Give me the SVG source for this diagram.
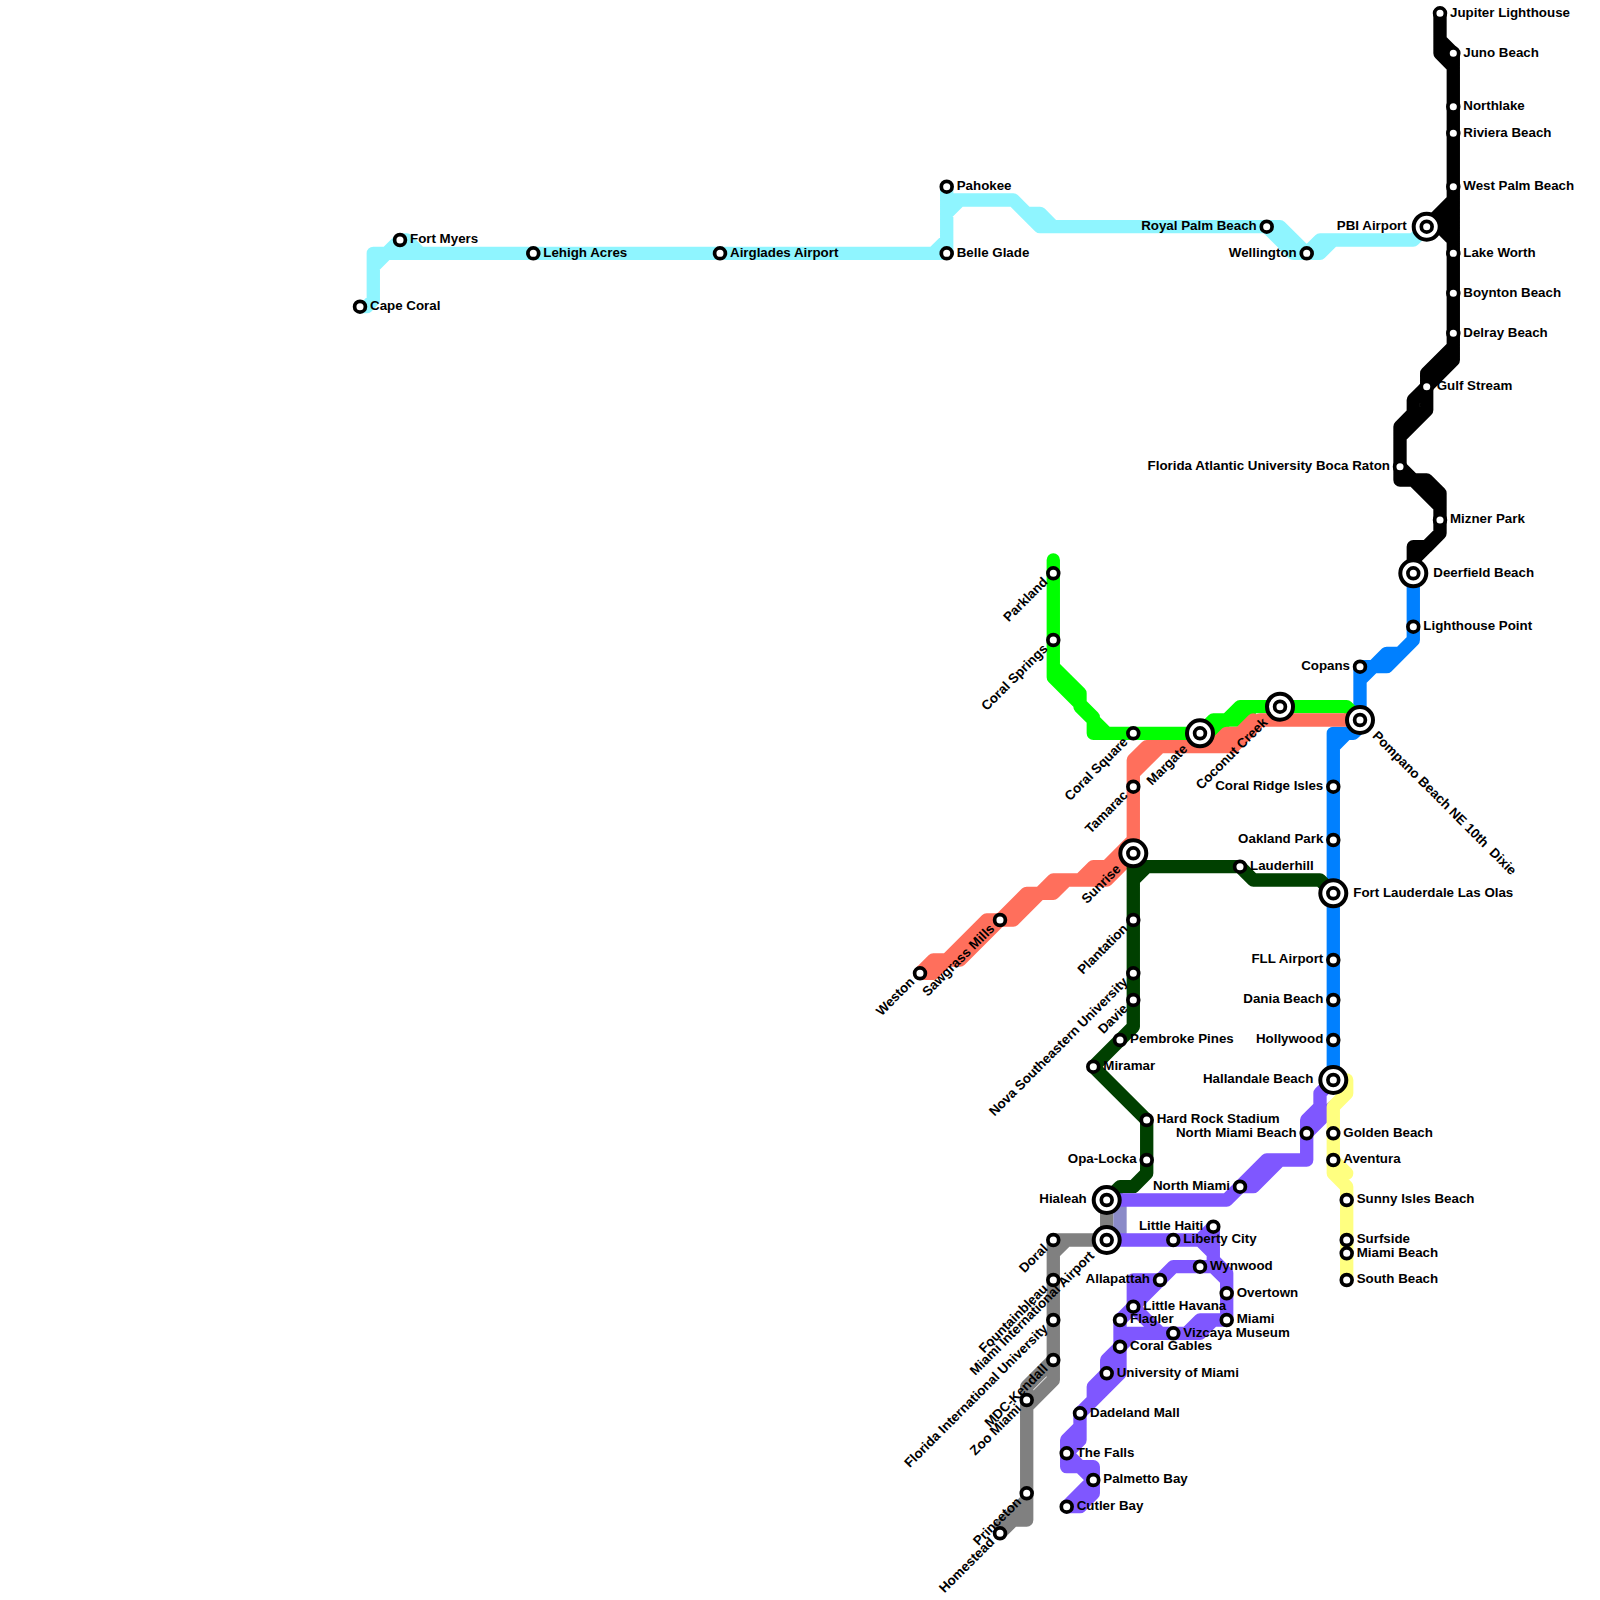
<svg xmlns="http://www.w3.org/2000/svg" width="1600" height="1600" viewBox="0 0 1600 1600">
<style>
text{font-family:"Liberation Sans",Arial,sans-serif;font-size:13.33px;font-weight:700;fill:#000;white-space:pre}
.e{text-anchor:end}
#connectors path{fill:none;stroke-width:13.33;stroke-linecap:round;stroke-linejoin:round}
.s{fill:#fff;stroke:#000;stroke-width:3.7}
.h{fill:#fff;stroke:#000;stroke-width:4}
</style>
<defs>
<g id="st"><circle class="s" r="5.4"/></g>
<g id="hub"><circle class="h" r="13"/><circle class="s" r="5.4"/></g>
</defs>
<rect width="1600" height="1600" fill="#fff"/>
<g id="connectors">
<path id="line-cyan" stroke="#8ff5ff" d="M360 306.7H366.7L373.3 300V253.3H386.7L400 240H406.7L420 253.3H946.7M373.3 266.7L386.7 253.3M386.7 253.3H420M933.3 253.3L946.7 240M946.7 186.7V253.3M946.7 213.3L960 200M946.7 200H1013.3L1040 226.7H1280L1306.7 253.3M1026.7 213.3H1040L1053.3 226.7M1266.7 226.7L1293.3 253.3H1320L1333.3 240M1306.7 253.3L1320 240H1413.3L1426.7 226.7"/>
<path id="line-black" stroke="#000" d="M1440 13.3V53.3L1453.3 66.7M1440 40L1453.3 53.3V360L1426.7 386.7M1453.3 346.7L1426.7 373.3V410L1400 436.7M1426.7 386.7L1413.3 400V413.3L1400 426.7V480H1413.3L1440 506.7M1400 466.7L1413.3 480H1426.7L1440 493.3V533.3L1413.3 560M1413.3 573.3V546.7H1426.7L1440 533.3M1453.3 200L1426.7 226.7M1433.3 220L1453.3 240M1440 213.3H1453.3M1440 226.7H1453.3"/>
<path id="line-blue" stroke="#0080ff" d="M1413.3 573.3V640L1386.7 666.7H1373.3L1360 680M1400 653.3H1386.7L1360 680M1360 666.7H1373.3M1360 666.7V726.7L1353.3 733.3H1333.3V1080M1333.3 746.7L1346.7 733.3"/>
<path id="line-green" stroke="#00ff00" d="M1053.3 560V677.3L1093.3 717.3V733.3H1200L1213.3 720H1226.7L1240 706.7H1346.7L1360 720M1053.3 666.7L1080 693.3V706.7L1106.7 733.3M1213.3 733.3L1226.7 720H1240L1253.3 706.7"/>
<path id="line-salmon" stroke="#ff6f5c" d="M1133.3 840V760L1146.7 746.7H1233.3L1260 720H1353M1133.3 773.3L1160 746.7M1213.3 746.7L1226.7 733.3H1240L1253.3 720M1133.3 840L1106.7 866.7H1093.3L1080 880H1053.3L1040 893.3H1026.7L1000 920H986.7L946.7 960H933.3L920 973.3M1133.3 853.3L1106.7 880H1066.7L1053.3 893.3H1040L1013.3 920H1000L960 960H946.7L933.3 973.3H920"/>
<path id="line-darkgreen" stroke="#004000" d="M1133.3 853.3V1026.7L1093.3 1066.7L1146.7 1120V1173.3L1133.3 1186.7H1120L1106.7 1200M1133.3 866.7H1240L1253.3 880H1320L1333.3 893.3M1133.3 880L1146.7 866.7"/>
<path id="line-gray" stroke="#808080" d="M1106.7 1200V1240H1053.3V1380L1026.7 1406.7V1520H1013.3L1000 1533.3M1053.3 1253.3L1066.7 1240M1053.3 1360L1026.7 1386.7V1410M1026.7 1500L1000 1526.7"/>
<path id="line-blend" stroke="#8a8ac8" d="M1106.7 1206.7H1120V1233.3H1106.7"/>
<path id="line-purple" stroke="#7f57ff" d="M1106.7 1200H1226.7L1240 1186.7H1253.3L1280 1160H1306.7V1120L1320 1106.7V1093.3L1333.3 1080M1226.7 1200L1266.7 1160H1280M1333.3 1106.7L1306.7 1133.3M1106.7 1240H1200L1213.3 1226.7V1260L1226.7 1273.3V1320H1200L1186.7 1333.3H1133.3L1120 1346.7L1106.7 1360V1373.3L1093.3 1386.7V1400L1080 1413.3V1426.7L1066.7 1440V1466.7H1080L1093.3 1480M1200 1240L1213.3 1253.3M1213.3 1266.7H1173.3L1120 1320V1346.7M1213.3 1266.7L1226.7 1280M1133.3 1280H1160M1133.3 1280V1306.7L1120 1320V1333.3H1133.3M1140 1280V1298M1133.3 1306.7L1160 1333.3M1200 1333.3L1213.3 1320M1186.7 1333.3H1200M1120 1346.7V1373.3L1093.3 1400L1080 1413.3V1440L1066.7 1453.3L1080 1466.7H1093.3V1493.3L1080 1506.7H1066.7L1093.3 1480"/>
<path id="line-yellow" stroke="#ffff80" d="M1333.3 1080H1346.7V1093.3L1333.3 1106.7V1173.3L1346.7 1186.7V1280M1333.3 1160L1346.7 1173.3"/>
</g>
<g id="nodes">
<g id="jupiter" transform="translate(1440 13.3)"><use href="#st"/><text x="10" y="3.3">Jupiter Lighthouse</text></g>
<g id="juno" transform="translate(1453.3 53.3)"><use href="#st"/><text x="10" y="3.3">Juno Beach</text></g>
<g id="northlake" transform="translate(1453.3 106.7)"><use href="#st"/><text x="10" y="3.3">Northlake</text></g>
<g id="riviera" transform="translate(1453.3 133.3)"><use href="#st"/><text x="10" y="3.3">Riviera Beach</text></g>
<g id="wpb" transform="translate(1453.3 186.7)"><use href="#st"/><text x="10" y="3.3">West Palm Beach</text></g>
<g id="pbi" transform="translate(1426.7 226.7)"><use href="#hub"/><text class="e" x="-20" y="3.3">PBI Airport</text></g>
<g id="lakeworth" transform="translate(1453.3 253.3)"><use href="#st"/><text x="10" y="3.3">Lake Worth</text></g>
<g id="boynton" transform="translate(1453.3 293.3)"><use href="#st"/><text x="10" y="3.3">Boynton Beach</text></g>
<g id="delray" transform="translate(1453.3 333.3)"><use href="#st"/><text x="10" y="3.3">Delray Beach</text></g>
<g id="gulfstream" transform="translate(1426.7 386.7)"><use href="#st"/><text x="10" y="3.3">Gulf Stream</text></g>
<g id="fau" transform="translate(1400 466.7)"><use href="#st"/><text class="e" x="-10" y="3.3">Florida Atlantic University Boca Raton</text></g>
<g id="mizner" transform="translate(1440 520)"><use href="#st"/><text x="10" y="3.3">Mizner Park</text></g>
<g id="deerfield" transform="translate(1413.3 573.3)"><use href="#hub"/><text x="20" y="3.3">Deerfield Beach</text></g>
<g id="lighthouse" transform="translate(1413.3 626.7)"><use href="#st"/><text x="10" y="3.3">Lighthouse Point</text></g>
<g id="copans" transform="translate(1360 666.7)"><use href="#st"/><text class="e" x="-10" y="3.3">Copans</text></g>
<g id="pompano" transform="translate(1360 720)"><use href="#hub"/><text transform="rotate(45)" x="20" y="3.3">Pompano Beach NE 10th  Dixie</text></g>
<g id="coconut" transform="translate(1280 706.7)"><use href="#hub"/><text class="e" transform="rotate(-45)" x="-20" y="3.3">Coconut Creek</text></g>
<g id="margate" transform="translate(1200 733.3)"><use href="#hub"/><text class="e" transform="rotate(-45)" x="-20" y="3.3">Margate</text></g>
<g id="coralsquare" transform="translate(1133.3 733.3)"><use href="#st"/><text class="e" transform="rotate(-45)" x="-10" y="3.3">Coral Square</text></g>
<g id="tamarac" transform="translate(1133.3 786.7)"><use href="#st"/><text class="e" transform="rotate(-45)" x="-10" y="3.3">Tamarac</text></g>
<g id="sunrise" transform="translate(1133.3 853.3)"><use href="#hub"/><text class="e" transform="rotate(-45)" x="-20" y="3.3">Sunrise</text></g>
<g id="parkland" transform="translate(1053.3 573.3)"><use href="#st"/><text class="e" transform="rotate(-45)" x="-10" y="3.3">Parkland</text></g>
<g id="coralsprings" transform="translate(1053.3 640)"><use href="#st"/><text class="e" transform="rotate(-45)" x="-10" y="3.3">Coral Springs</text></g>
<g id="sawgrass" transform="translate(1000 920)"><use href="#st"/><text class="e" transform="rotate(-45)" x="-10" y="3.3">Sawgrass Mills</text></g>
<g id="weston" transform="translate(920 973.3)"><use href="#st"/><text class="e" transform="rotate(-45)" x="-10" y="3.3">Weston</text></g>
<g id="lauderhill" transform="translate(1240 866.7)"><use href="#st"/><text x="10" y="3.3">Lauderhill</text></g>
<g id="coralridge" transform="translate(1333.3 786.7)"><use href="#st"/><text class="e" x="-10" y="3.3">Coral Ridge Isles</text></g>
<g id="oakland" transform="translate(1333.3 840)"><use href="#st"/><text class="e" x="-10" y="3.3">Oakland Park</text></g>
<g id="ftl" transform="translate(1333.3 893.3)"><use href="#hub"/><text x="20" y="3.3">Fort Lauderdale Las Olas</text></g>
<g id="fll" transform="translate(1333.3 960)"><use href="#st"/><text class="e" x="-10" y="3.3">FLL Airport</text></g>
<g id="dania" transform="translate(1333.3 1000)"><use href="#st"/><text class="e" x="-10" y="3.3">Dania Beach</text></g>
<g id="hollywood" transform="translate(1333.3 1040)"><use href="#st"/><text class="e" x="-10" y="3.3">Hollywood</text></g>
<g id="hallandale" transform="translate(1333.3 1080)"><use href="#hub"/><text class="e" x="-20" y="3.3">Hallandale Beach</text></g>
<g id="golden" transform="translate(1333.3 1133.3)"><use href="#st"/><text x="10" y="3.3">Golden Beach</text></g>
<g id="aventura" transform="translate(1333.3 1160)"><use href="#st"/><text x="10" y="3.3">Aventura</text></g>
<g id="sunny" transform="translate(1346.7 1200)"><use href="#st"/><text x="10" y="3.3">Sunny Isles Beach</text></g>
<g id="surfside" transform="translate(1346.7 1240)"><use href="#st"/><text x="10" y="3.3">Surfside</text></g>
<g id="miamibeach" transform="translate(1346.7 1253.3)"><use href="#st"/><text x="10" y="3.3">Miami Beach</text></g>
<g id="southbeach" transform="translate(1346.7 1280)"><use href="#st"/><text x="10" y="3.3">South Beach</text></g>
<g id="nmb" transform="translate(1306.7 1133.3)"><use href="#st"/><text class="e" x="-10" y="3.3">North Miami Beach</text></g>
<g id="northmiami" transform="translate(1240 1186.7)"><use href="#st"/><text class="e" x="-10" y="3.3">North Miami</text></g>
<g id="plantation" transform="translate(1133.3 920)"><use href="#st"/><text class="e" transform="rotate(-45)" x="-10" y="3.3">Plantation</text></g>
<g id="nsu" transform="translate(1133.3 973.3)"><use href="#st"/><text class="e" transform="rotate(-45)" x="-10" y="3.3">Nova Southeastern University</text></g>
<g id="davie" transform="translate(1133.3 1000)"><use href="#st"/><text class="e" transform="rotate(-45)" x="-10" y="3.3">Davie</text></g>
<g id="pembroke" transform="translate(1120 1040)"><use href="#st"/><text x="10" y="3.3">Pembroke Pines</text></g>
<g id="miramar" transform="translate(1093.3 1066.7)"><use href="#st"/><text x="10" y="3.3">Miramar</text></g>
<g id="hardrock" transform="translate(1146.7 1120)"><use href="#st"/><text x="10" y="3.3">Hard Rock Stadium</text></g>
<g id="opalocka" transform="translate(1146.7 1160)"><use href="#st"/><text class="e" x="-10" y="3.3">Opa-Locka</text></g>
<g id="hialeah" transform="translate(1106.7 1200)"><use href="#hub"/><text class="e" x="-20" y="3.3">Hialeah</text></g>
<g id="mia" transform="translate(1106.7 1240)"><use href="#hub"/><text class="e" transform="rotate(-45)" x="-20" y="3.3">Miami International Airport</text></g>
<g id="littlehaiti" transform="translate(1213.3 1226.7)"><use href="#st"/><text class="e" x="-10" y="3.3">Little Haiti</text></g>
<g id="liberty" transform="translate(1173.3 1240)"><use href="#st"/><text x="10" y="3.3">Liberty City</text></g>
<g id="wynwood" transform="translate(1200 1266.7)"><use href="#st"/><text x="10" y="3.3">Wynwood</text></g>
<g id="overtown" transform="translate(1226.7 1293.3)"><use href="#st"/><text x="10" y="3.3">Overtown</text></g>
<g id="miami" transform="translate(1226.7 1320)"><use href="#st"/><text x="10" y="3.3">Miami</text></g>
<g id="vizcaya" transform="translate(1173.3 1333.3)"><use href="#st"/><text x="10" y="3.3">Vizcaya Museum</text></g>
<g id="allapattah" transform="translate(1160 1280)"><use href="#st"/><text class="e" x="-10" y="3.3">Allapattah</text></g>
<g id="littlehavana" transform="translate(1133.3 1306.7)"><use href="#st"/><text x="10" y="3.3">Little Havana</text></g>
<g id="flagler" transform="translate(1120 1320)"><use href="#st"/><text x="10" y="3.3">Flagler</text></g>
<g id="coralgables" transform="translate(1120 1346.7)"><use href="#st"/><text x="10" y="3.3">Coral Gables</text></g>
<g id="um" transform="translate(1106.7 1373.3)"><use href="#st"/><text x="10" y="3.3">University of Miami</text></g>
<g id="dadeland" transform="translate(1080 1413.3)"><use href="#st"/><text x="10" y="3.3">Dadeland Mall</text></g>
<g id="falls" transform="translate(1066.7 1453.3)"><use href="#st"/><text x="10" y="3.3">The Falls</text></g>
<g id="palmetto" transform="translate(1093.3 1480)"><use href="#st"/><text x="10" y="3.3">Palmetto Bay</text></g>
<g id="cutler" transform="translate(1066.7 1506.7)"><use href="#st"/><text x="10" y="3.3">Cutler Bay</text></g>
<g id="doral" transform="translate(1053.3 1240)"><use href="#st"/><text class="e" transform="rotate(-45)" x="-10" y="3.3">Doral</text></g>
<g id="fountainbleau" transform="translate(1053.3 1280)"><use href="#st"/><text class="e" transform="rotate(-45)" x="-10" y="3.3">Fountainbleau</text></g>
<g id="fiu" transform="translate(1053.3 1320)"><use href="#st"/><text class="e" transform="rotate(-45)" x="-10" y="3.3">Florida International University</text></g>
<g id="mdc" transform="translate(1053.3 1360)"><use href="#st"/><text class="e" transform="rotate(-45)" x="-10" y="3.3">MDC-Kendall</text></g>
<g id="zoo" transform="translate(1026.7 1400)"><use href="#st"/><text class="e" transform="rotate(-45)" x="-10" y="3.3">Zoo Miami</text></g>
<g id="princeton" transform="translate(1026.7 1493.3)"><use href="#st"/><text class="e" transform="rotate(-45)" x="-10" y="3.3">Princeton</text></g>
<g id="homestead" transform="translate(1000 1533.3)"><use href="#st"/><text class="e" transform="rotate(-45)" x="-10" y="3.3">Homestead</text></g>
<g id="capecoral" transform="translate(360 306.7)"><use href="#st"/><text x="10" y="3.3">Cape Coral</text></g>
<g id="fortmyers" transform="translate(400 240)"><use href="#st"/><text x="10" y="3.3">Fort Myers</text></g>
<g id="lehigh" transform="translate(533.3 253.3)"><use href="#st"/><text x="10" y="3.3">Lehigh Acres</text></g>
<g id="airglades" transform="translate(720 253.3)"><use href="#st"/><text x="10" y="3.3">Airglades Airport</text></g>
<g id="belleglade" transform="translate(946.7 253.3)"><use href="#st"/><text x="10" y="3.3">Belle Glade</text></g>
<g id="pahokee" transform="translate(946.7 186.7)"><use href="#st"/><text x="10" y="3.3">Pahokee</text></g>
<g id="royalpalm" transform="translate(1266.7 226.7)"><use href="#st"/><text class="e" x="-10" y="3.3">Royal Palm Beach</text></g>
<g id="wellington" transform="translate(1306.7 253.3)"><use href="#st"/><text class="e" x="-10" y="3.3">Wellington</text></g>
</g>
</svg>
